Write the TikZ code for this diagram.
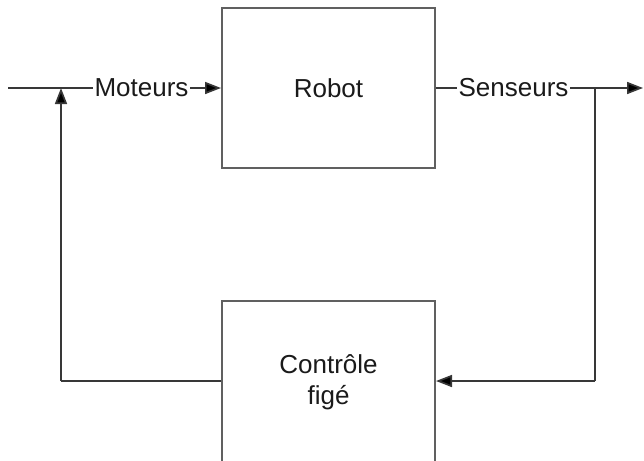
\documentclass[tikz,border=0pt]{standalone}
\usepackage{fontspec}
\setmainfont{Liberation Sans}
\usetikzlibrary{arrows.meta}
\definecolor{boxline}{HTML}{606060}
\definecolor{conline}{HTML}{383838}
\definecolor{txt}{HTML}{1A1A1A}
\tikzset{
  blockbox/.style={draw=boxline, line width=2pt, fill=white, minimum width=213pt, inner sep=0pt, align=center, text=txt, font=\fontsize{26}{31}\selectfont},
  lbl/.style={inner sep=1.5pt, text=txt, font=\fontsize{26}{31}\selectfont},
  conn/.style={draw=conline, line width=1.7pt},
  arr/.style={conn, -{Triangle[length=16pt,width=12pt,fill=black]}}
}
\begin{document}
\begin{tikzpicture}[x=1pt,y=1pt]
\useasboundingbox (0,0) rectangle (644,-460);
\clip (0,0) rectangle (644,-460);
\node[blockbox, minimum height=159pt] (robot) at (328.5,-88) {Robot};
\node[blockbox, minimum height=162pt] (ctrl) at (328.5,-382) {Contr\^ole\\fig\'e};
\node[lbl] (mot) at (141.5,-88) {Moteurs};
\node[lbl] (sen) at (513.5,-88) {Senseurs};
\coordinate (in) at (8,-88);
\coordinate (out) at (643,-88);
\coordinate (j1) at (61,-88);
\coordinate (j1b) at (61,-381);
\coordinate (j2) at (595,-88);
\coordinate (j2b) at (595,-381);
\draw[conn] (in) -- (mot.west);
\draw[arr] (mot.east) -- (robot.west);
\draw[conn] (robot.east) -- (sen.west);
\draw[arr] (sen.east) -- (out);
\draw[conn] (ctrl.west |- j1b) -- (j1b);
\draw[arr] (j1b) -- (j1);
\draw[conn] (j2) -- (j2b);
\draw[arr] (j2b) -- (ctrl.east |- j2b);
\end{tikzpicture}
\end{document}
